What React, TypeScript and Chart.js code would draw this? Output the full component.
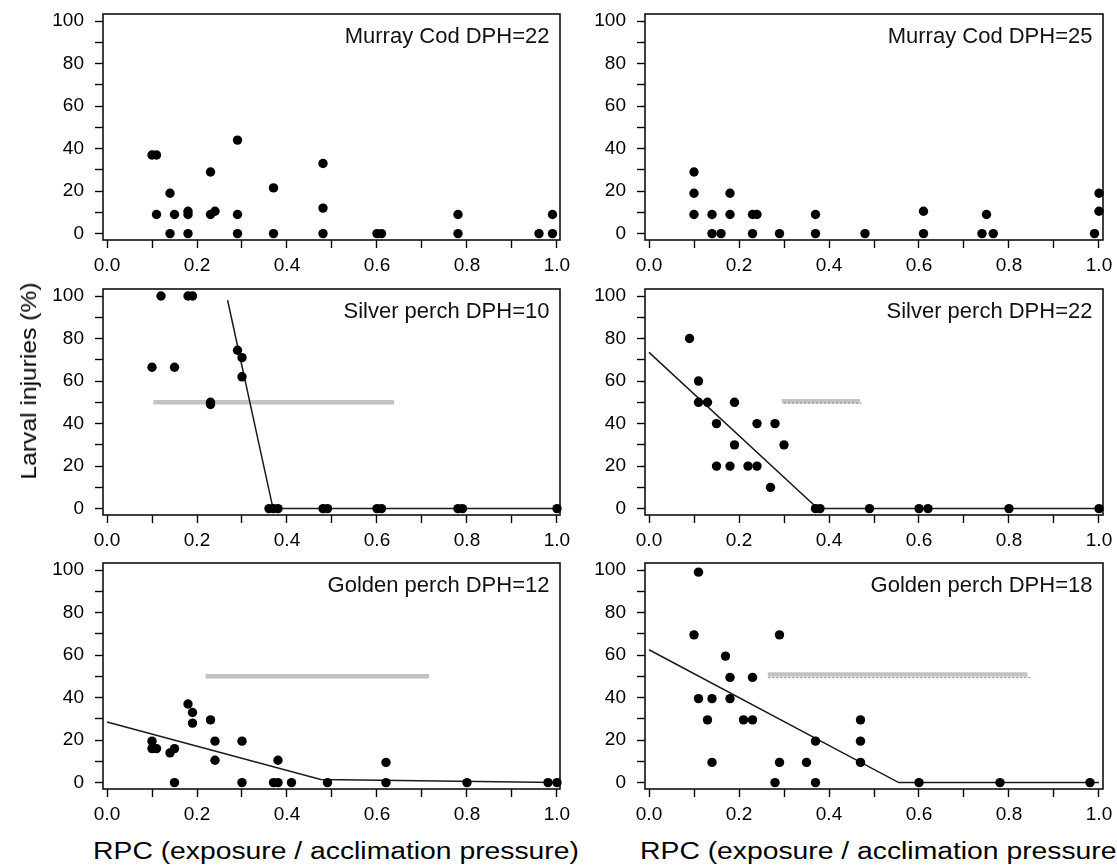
import React, { useEffect, useRef } from 'react';
import { Chart, registerables } from 'chart.js';

Chart.register(...registerables);

const FONT = '"Liberation Sans", Arial, Helvetica, sans-serif';

// ---- axes ----
const xTickValues = [0, 0.1, 0.2, 0.3, 0.4, 0.5, 0.6, 0.7, 0.8, 0.9, 1.0];
const xTickLabels = ['0.0', '', '0.2', '', '0.4', '', '0.6', '', '0.8', '', '1.0'];
const yTickValues = [0, 10, 20, 30, 40, 50, 60, 70, 80, 90, 100];
const yTickLabels = ['0', '', '20', '', '40', '', '60', '', '80', '', '100'];
const xMin = -0.0089;
const yMin = -3;
const yMax = 103.3;

const yAxisTitle = 'Larval injuries (%)';
const xAxisTitle = 'RPC (exposure / acclimation pressure)';

const panelTitles = [
  'Murray Cod DPH=22',
  'Murray Cod DPH=25',
  'Silver perch DPH=10',
  'Silver perch DPH=22',
  'Golden perch DPH=12',
  'Golden perch DPH=18',
];

// ---- Murray Cod DPH=22 ----
const murrayCod22X = [0.10, 0.11, 0.11, 0.14, 0.14, 0.15, 0.18, 0.18, 0.18, 0.23, 0.23, 0.24, 0.29, 0.29, 0.29, 0.37, 0.37, 0.48, 0.48, 0.48, 0.60, 0.61, 0.78, 0.78, 0.96, 0.99, 0.99];
const murrayCod22Y = [37, 37, 9, 19, 0, 9, 10.5, 9, 0, 29, 9, 10.5, 44, 9, 0, 21.5, 0, 33, 12, 0, 0, 0, 9, 0, 0, 9, 0];

// ---- Murray Cod DPH=25 ----
const murrayCod25X = [0.10, 0.10, 0.10, 0.14, 0.14, 0.16, 0.18, 0.18, 0.23, 0.24, 0.23, 0.29, 0.37, 0.37, 0.48, 0.61, 0.61, 0.74, 0.75, 0.765, 0.99, 1.0, 1.0];
const murrayCod25Y = [29, 19, 9, 9, 0, 0, 19, 9, 9, 9, 0, 0, 9, 0, 0, 10.5, 0, 0, 9, 0, 0, 19, 10.5];

// ---- Silver perch DPH=10 ----
const silverPerch10X = [0.10, 0.12, 0.15, 0.18, 0.19, 0.23, 0.23, 0.29, 0.30, 0.30, 0.36, 0.37, 0.38, 0.48, 0.49, 0.60, 0.61, 0.78, 0.79, 1.0];
const silverPerch10Y = [66.5, 100, 66.5, 100, 100, 50, 49, 74.5, 71, 62, 0, 0, 0, 0, 0, 0, 0, 0, 0, 0];
const silverPerch10FitX = [0.268, 0.369, 1.0];
const silverPerch10FitY = [98, 0, 0];
const silverPerch10RefX = [0.103, 0.638];
const silverPerch10RefY = [50, 50];

// ---- Silver perch DPH=22 ----
const silverPerch22X = [0.09, 0.11, 0.11, 0.13, 0.19, 0.15, 0.24, 0.28, 0.19, 0.30, 0.15, 0.18, 0.22, 0.24, 0.27, 0.37, 0.38, 0.49, 0.60, 0.62, 0.80, 1.0];
const silverPerch22Y = [80, 60, 50, 50, 50, 40, 40, 40, 30, 30, 20, 20, 20, 20, 10, 0, 0, 0, 0, 0, 0, 0];
const silverPerch22FitX = [0, 0.375, 1.0];
const silverPerch22FitY = [73.5, 0, 0];
const silverPerch22RefX = [0.295, 0.469];
const silverPerch22RefY = [50.5, 50.5];
const silverPerch22DotX = [0.30, 0.472];
const silverPerch22DotY = [49.6, 49.6];

// ---- Golden perch DPH=12 ----
const goldenPerch12X = [0.10, 0.10, 0.11, 0.14, 0.15, 0.15, 0.18, 0.19, 0.19, 0.23, 0.24, 0.24, 0.30, 0.30, 0.37, 0.38, 0.38, 0.41, 0.49, 0.62, 0.62, 0.80, 0.98, 1.0];
const goldenPerch12Y = [19.5, 16, 16, 14, 16, 0, 37, 33, 28, 29.5, 19.5, 10.5, 19.5, 0, 0, 0, 10.5, 0, 0, 9.5, 0, 0, 0, 0];
const goldenPerch12FitX = [0, 0.475, 1.0];
const goldenPerch12FitY = [28.5, 1.5, 0];
const goldenPerch12RefX = [0.219, 0.716];
const goldenPerch12RefY = [50, 50];

// ---- Golden perch DPH=18 ----
const goldenPerch18X = [0.11, 0.10, 0.29, 0.17, 0.18, 0.23, 0.11, 0.14, 0.18, 0.13, 0.21, 0.23, 0.14, 0.29, 0.35, 0.37, 0.37, 0.28, 0.47, 0.47, 0.47, 0.60, 0.78, 0.98];
const goldenPerch18Y = [99, 69.5, 69.5, 59.5, 49.5, 49.5, 39.5, 39.5, 39.5, 29.5, 29.5, 29.5, 9.5, 9.5, 9.5, 19.5, 0, 0, 29.5, 19.5, 9.5, 0, 0, 0];
const goldenPerch18FitX = [0, 0.555, 1.0];
const goldenPerch18FitY = [62.5, 0, 0];
const goldenPerch18RefX = [0.264, 0.841];
const goldenPerch18RefY = [50.9, 50.9];
const goldenPerch18DotX = [0.265, 0.852];
const goldenPerch18DotY = [49.4, 49.4];

const toXY = (xs: number[], ys: number[]) => xs.map((x, i) => ({ x, y: ys[i] }));

type PanelProps = {
  title: string;
  left: number;
  top: number;
  width: number;
  height: number;
  yAxisWidth: number;
  padRight: number;
  xMax: number;
  px: number[];
  py: number[];
  fitX?: number[];
  fitY?: number[];
  refX?: number[];
  refY?: number[];
  dotX?: number[];
  dotY?: number[];
};

function Panel(p: PanelProps) {
  const ref = useRef<HTMLCanvasElement>(null);
  useEffect(() => {
    if (!ref.current) return;
    const datasets: any[] = [
      {
        type: 'scatter',
        data: toXY(p.px, p.py),
        pointRadius: 4.7,
        pointHoverRadius: 4.7,
        backgroundColor: '#000',
        borderWidth: 0,
        showLine: false,
        clip: false,
      },
    ];
    if (p.fitX && p.fitY) {
      datasets.push({
        type: 'line',
        data: toXY(p.fitX, p.fitY),
        borderColor: '#1a1a1a',
        borderWidth: 1.5,
        pointRadius: 0,
        tension: 0,
        fill: false,
        clip: false,
      });
    }
    if (p.dotX && p.dotY) {
      datasets.push({
        type: 'line',
        data: toXY(p.dotX, p.dotY),
        borderColor: '#8a8a8a',
        borderWidth: 1,
        borderDash: [2, 2],
        pointRadius: 0,
        fill: false,
        clip: false,
      });
    }
    if (p.refX && p.refY) {
      datasets.push({
        type: 'line',
        data: toXY(p.refX, p.refY),
        borderColor: '#c3c3c3',
        borderWidth: 4.5,
        borderCapStyle: 'butt',
        pointRadius: 0,
        fill: false,
        clip: false,
      });
    }

    const framePlugin = {
      id: 'frameAndTitle',
      beforeDatasetsDraw(chart: any) {
        const { ctx, chartArea } = chart;
        const { left, top, right, bottom } = chartArea;
        ctx.save();
        ctx.strokeStyle = '#111';
        ctx.lineWidth = 1.6;
        ctx.strokeRect(left, top, right - left, bottom - top);
        ctx.restore();
      },
      afterDraw(chart: any) {
        const { ctx, chartArea } = chart;
        ctx.save();
        ctx.font = `22px ${FONT}`;
        ctx.fillStyle = '#111';
        ctx.textAlign = 'right';
        ctx.textBaseline = 'alphabetic';
        ctx.fillText(p.title, chartArea.right - 10.5, chartArea.top + 28.5);
        ctx.restore();
      },
    };

    const zeroPad = (s: any) => {
      s.paddingTop = 0;
      s.paddingBottom = 0;
      s.paddingLeft = 0;
      s.paddingRight = 0;
    };

    const chart = new Chart(ref.current, {
      type: 'scatter',
      data: { datasets },
      options: {
        animation: false,
        responsive: false,
        maintainAspectRatio: false,
        devicePixelRatio: 1,
        events: [],
        layout: { padding: { left: 0, top: 14, right: p.padRight, bottom: 0 } },
        plugins: {
          legend: { display: false },
          tooltip: { enabled: false },
          title: { display: false },
        },
        scales: {
          x: {
            type: 'linear',
            min: xMin,
            max: p.xMax,
            afterBuildTicks: (s: any) => {
              s.ticks = xTickValues.map((v) => ({ value: v }));
            },
            afterFit: (s: any) => {
              s.height = 35;
              zeroPad(s);
            },
            ticks: {
              autoSkip: false,
              maxRotation: 0,
              minRotation: 0,
              padding: 6,
              color: '#000',
              font: { family: FONT, size: 19 },
              callback: (_v: any, i: number) => xTickLabels[i],
            },
            grid: {
              drawOnChartArea: false,
              drawTicks: true,
              tickLength: 8,
              tickWidth: 1.4,
              tickColor: '#000',
            },
            border: { display: false },
          },
          y: {
            type: 'linear',
            min: yMin,
            max: yMax,
            afterBuildTicks: (s: any) => {
              s.ticks = yTickValues.map((v) => ({ value: v }));
            },
            afterFit: (s: any) => {
              s.width = p.yAxisWidth;
              zeroPad(s);
            },
            ticks: {
              autoSkip: false,
              padding: 11,
              color: '#000',
              font: { family: FONT, size: 19 },
              callback: (_v: any, i: number) => yTickLabels[i],
            },
            grid: {
              drawOnChartArea: false,
              drawTicks: true,
              tickLength: 8,
              tickWidth: 1.4,
              tickColor: '#000',
            },
            border: { display: false },
          },
        },
      } as any,
      plugins: [framePlugin],
    });
    return () => chart.destroy();
  }, []);
  return (
    <canvas
      ref={ref}
      width={p.width}
      height={p.height}
      style={{ position: 'absolute', left: p.left, top: p.top, width: p.width, height: p.height }}
    />
  );
}

export default function App() {
  const rowTops = [0, 275, 549];
  const H = 275;
  const leftCol = { left: 0, width: 590, yAxisWidth: 103, padRight: 30, xMax: 1.0067 };
  const rightCol = { left: 590, width: 560, yAxisWidth: 55, padRight: 47, xMax: 1.0089 };

  const titleStyle: React.CSSProperties = {
    position: 'absolute',
    fontFamily: FONT,
    whiteSpace: 'nowrap',
    color: '#000',
  };

  return (
    <div
      style={{
        position: 'absolute',
        left: 0,
        top: 0,
        width: 1117,
        height: 865,
        overflow: 'hidden',
        background: '#fff',
      }}
    >
      <Panel title={panelTitles[0]} top={rowTops[0]} height={H} {...leftCol} px={murrayCod22X} py={murrayCod22Y} />
      <Panel title={panelTitles[1]} top={rowTops[0]} height={H} {...rightCol} px={murrayCod25X} py={murrayCod25Y} />
      <Panel
        title={panelTitles[2]}
        top={rowTops[1]}
        height={H}
        {...leftCol}
        px={silverPerch10X}
        py={silverPerch10Y}
        fitX={silverPerch10FitX}
        fitY={silverPerch10FitY}
        refX={silverPerch10RefX}
        refY={silverPerch10RefY}
      />
      <Panel
        title={panelTitles[3]}
        top={rowTops[1]}
        height={H}
        {...rightCol}
        px={silverPerch22X}
        py={silverPerch22Y}
        fitX={silverPerch22FitX}
        fitY={silverPerch22FitY}
        refX={silverPerch22RefX}
        refY={silverPerch22RefY}
        dotX={silverPerch22DotX}
        dotY={silverPerch22DotY}
      />
      <Panel
        title={panelTitles[4]}
        top={rowTops[2]}
        height={H}
        {...leftCol}
        px={goldenPerch12X}
        py={goldenPerch12Y}
        fitX={goldenPerch12FitX}
        fitY={goldenPerch12FitY}
        refX={goldenPerch12RefX}
        refY={goldenPerch12RefY}
      />
      <Panel
        title={panelTitles[5]}
        top={rowTops[2]}
        height={H}
        {...rightCol}
        px={goldenPerch18X}
        py={goldenPerch18Y}
        fitX={goldenPerch18FitX}
        fitY={goldenPerch18FitY}
        refX={goldenPerch18RefX}
        refY={goldenPerch18RefY}
        dotX={goldenPerch18DotX}
        dotY={goldenPerch18DotY}
      />
      <div
        style={{
          ...titleStyle,
          left: 29,
          top: 381,
          fontSize: 22,
          lineHeight: '22px',
          transform: 'translate(-50%, -50%) rotate(-90deg) scaleX(1.12)',
        }}
      >
        {yAxisTitle}
      </div>
      <div
        style={{
          ...titleStyle,
          left: 336,
          top: 850.5,
          fontSize: 23,
          lineHeight: '23px',
          transform: 'translate(-50%, -50%) scaleX(1.23)',
        }}
      >
        {xAxisTitle}
      </div>
      <div
        style={{
          ...titleStyle,
          left: 883,
          top: 850.5,
          fontSize: 23,
          lineHeight: '23px',
          transform: 'translate(-50%, -50%) scaleX(1.23)',
        }}
      >
        {xAxisTitle}
      </div>
    </div>
  );
}
